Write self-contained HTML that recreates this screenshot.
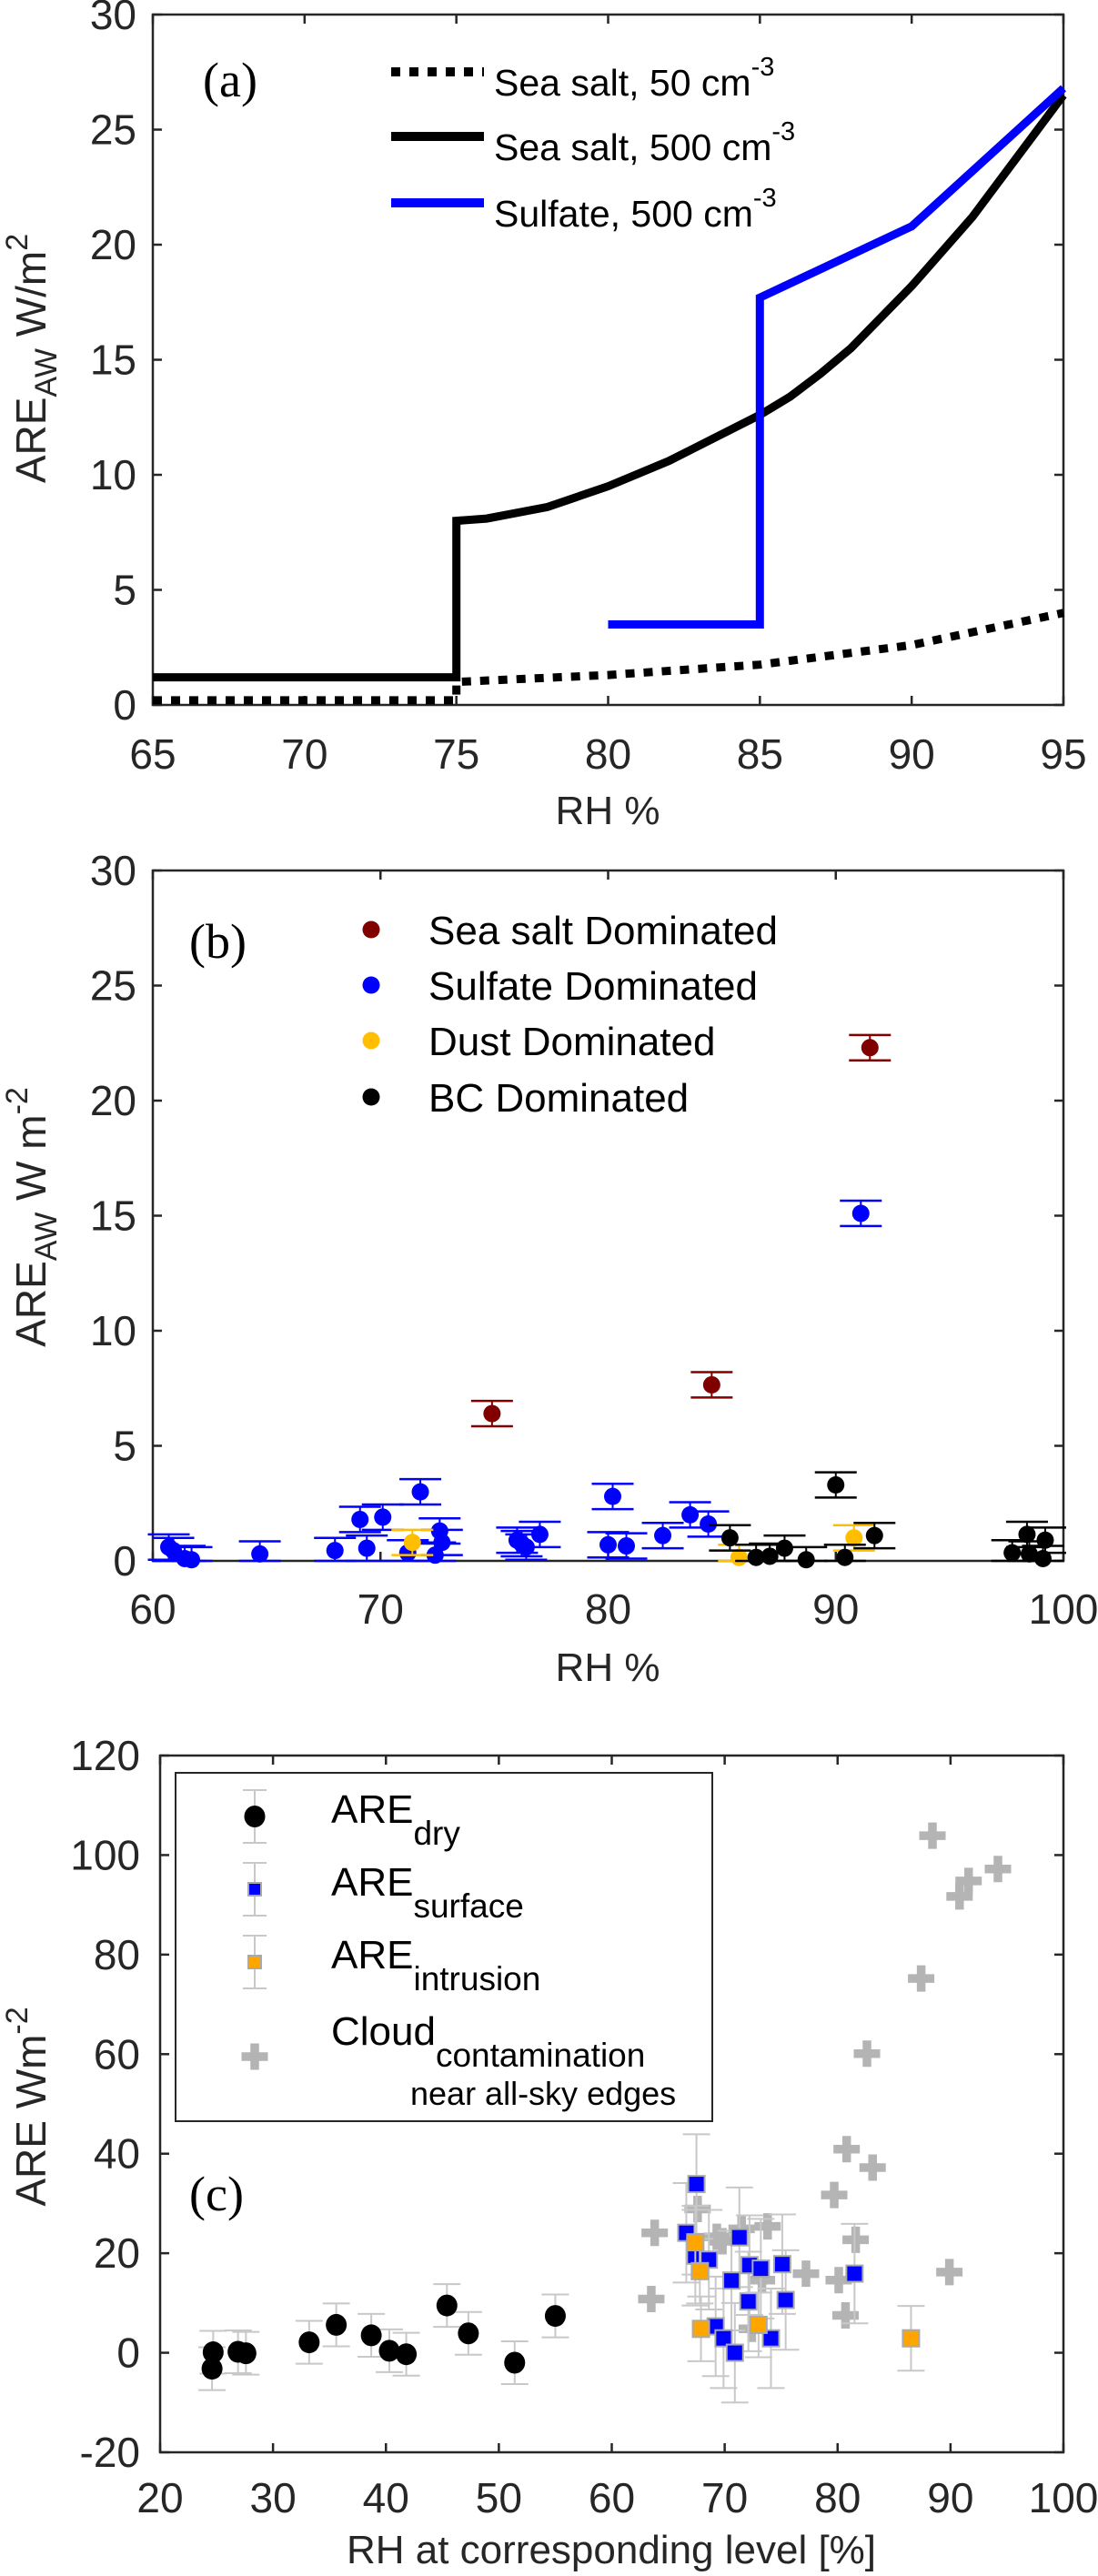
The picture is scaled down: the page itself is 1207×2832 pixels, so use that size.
<!DOCTYPE html>
<html><head><meta charset="utf-8"><style>
html,body{margin:0;padding:0;background:#fff;}
svg{display:block;font-family:"Liberation Sans",sans-serif;}
</style></head><body>
<svg id="fig" width="1207" height="2832" viewBox="0 0 1207 2832" xmlns="http://www.w3.org/2000/svg"></svg>
<script>
// ---------- Panel (a) data ----------
const aSeaSalt50X = [65, 75, 75, 80, 85, 90, 95];
const aSeaSalt50Y = [0.2, 0.2, 1.0, 1.3, 1.75, 2.6, 4.0];
const aSeaSalt500X = [65, 75, 75, 76, 78, 80, 82, 85, 86, 87, 88, 90, 92, 95];
const aSeaSalt500Y = [1.2, 1.2, 8.0, 8.1, 8.6, 9.5, 10.6, 12.6, 13.4, 14.4, 15.5, 18.2, 21.2, 26.5];
const aSulfateX = [80, 85, 85, 90, 95];
const aSulfateY = [3.5, 3.5, 17.7, 20.8, 26.8];
const aXTicks = [65, 70, 75, 80, 85, 90, 95];
const aYTicks = [0, 5, 10, 15, 20, 25, 30];

// ---------- Panel (b) data ----------
const bSeaSaltX = [74.9, 84.55, 91.5];
const bSeaSaltY = [6.4, 7.65, 22.3];
const bSulfateX = [60.7, 60.9, 61.4, 61.7, 64.7, 68.0, 69.1, 69.4, 70.1, 71.2, 71.75, 72.4, 72.6, 72.7, 76.0, 76.2, 76.4, 77.0, 80.0, 80.2, 80.8, 82.4, 83.6, 84.4, 91.1];
const bSulfateY = [0.6, 0.45, 0.1, 0.05, 0.3, 0.45, 1.8, 0.55, 1.9, 0.35, 3.0, 0.25, 1.3, 0.8, 0.9, 0.75, 0.6, 1.15, 0.7, 2.8, 0.65, 1.1, 2.0, 1.6, 15.1];
const bDustX = [71.4, 85.75, 90.8];
const bDustY = [0.8, 0.15, 1.0];
const bBCX = [85.35, 86.5, 87.1, 87.75, 88.7, 90.0, 90.4, 91.7, 97.75, 98.4, 98.5, 99.1, 99.2];
const bBCY = [1.0, 0.15, 0.2, 0.55, 0.05, 3.3, 0.15, 1.1, 0.35, 1.15, 0.3, 0.1, 0.9];
const bXTicks = [60, 70, 80, 90, 100];
const bYTicks = [0, 5, 10, 15, 20, 25, 30];

// ---------- Panel (c) data ----------
const cDryX = [24.6, 24.7, 26.9, 27.6, 33.2, 35.6, 38.7, 40.3, 41.8, 45.4, 47.3, 51.4, 55.0];
const cDryY = [-3.2, 0.1, 0.2, -0.1, 2.1, 5.6, 3.5, 0.4, -0.3, 9.5, 3.9, -2.0, 7.4];
const cSurfX = [66.6, 67.5, 67.4, 68.6, 70.6, 71.3, 72.1, 72.2, 73.2, 75.1, 75.4, 81.5, 69.2, 69.9, 70.9, 74.1];
const cSurfY = [24.1, 33.9, 19.5, 18.7, 14.5, 23.2, 10.3, 17.6, 16.9, 17.8, 10.6, 15.9, 5.3, 2.9, 0.0, 2.9];
const cIntrX = [67.4, 67.8, 67.9, 73.0, 86.5];
const cIntrY = [22.2, 16.4, 4.8, 5.6, 2.9];
const cCloudX = [63.8, 63.5, 67.6, 69.3, 69.8, 71.5, 73.8, 73.3, 72.4, 77.2, 79.7, 80.1, 80.7, 80.8, 81.6, 83.1, 82.6, 87.4, 88.4, 90.8, 91.6, 94.2, 89.9];
const cCloudY = [24.1, 10.8, 28.9, 23.3, 22.4, 24.9, 25.4, 14.6, 4.8, 15.9, 31.7, 14.6, 7.5, 40.9, 22.7, 37.2, 60.1, 75.2, 103.9, 91.7, 94.8, 97.2, 16.2];
const cXTicks = [20, 30, 40, 50, 60, 70, 80, 90, 100];
const cYTicks = [-20, 0, 20, 40, 60, 80, 100, 120];

const NS = "http://www.w3.org/2000/svg";
const svg = document.getElementById('fig');
function mk(tag, attrs, parent, text) {
  const e = document.createElementNS(NS, tag);
  for (const k in attrs) e.setAttribute(k, attrs[k]);
  if (text !== undefined) e.textContent = text;
  (parent || svg).appendChild(e);
  return e;
}
function scale(d0, d1, r0, r1) { return v => r0 + (v - d0) / (d1 - d0) * (r1 - r0); }

function axes(g, L, R, T, B, xs, ys, xt, yt, xLabY, yLabRight) {
  const box = mk('rect', {x: L, y: T, width: R - L, height: B - T, fill: 'none', stroke: '#262626', 'stroke-width': 2.5}, g);
  
  
  xt.forEach(v => {
    const x = xs(v);
    mk('line', {x1: x, x2: x, y1: B, y2: B - 10, stroke: '#262626', 'stroke-width': 2.5}, g);
    mk('line', {x1: x, x2: x, y1: T, y2: T + 10, stroke: '#262626', 'stroke-width': 2.5}, g);
    const t = mk('text', {x: x, y: xLabY, 'text-anchor': 'middle', 'font-size': 46, fill: '#262626'}, g, String(v));
    
    
  });
  yt.forEach(v => {
    const y = ys(v);
    mk('line', {x1: L, x2: L + 10, y1: y, y2: y, stroke: '#262626', 'stroke-width': 2.5}, g);
    mk('line', {x1: R, x2: R - 10, y1: y, y2: y, stroke: '#262626', 'stroke-width': 2.5}, g);
    const t = mk('text', {x: yLabRight, y: y + 16, 'text-anchor': 'end', 'font-size': 46, fill: '#262626'}, g, String(v));
    
    
  });
}
function pathFrom(xArr, yArr, xs, ys) {
  return xArr.map((v, i) => (i ? 'L' : 'M') + xs(v).toFixed(1) + ',' + ys(yArr[i]).toFixed(1)).join(' ');
}

// ===== Panel (a) =====
{
  const g = mk('g', {});  
  const L = 168, R = 1169, T = 16, B = 775;
  const xs = scale(65, 95, L, R), ys = scale(0, 30, B, T);
  axes(g, L, R, T, B, xs, ys, aXTicks, aYTicks, 845, 150);
  let p = mk('path', {d: pathFrom(aSeaSalt50X, aSeaSalt50Y, xs, ys), fill: 'none', stroke: '#000', 'stroke-width': 9, 'stroke-dasharray': '10 10'}, g);
   
  p = mk('path', {d: pathFrom(aSeaSalt500X, aSeaSalt500Y, xs, ys), fill: 'none', stroke: '#000', 'stroke-width': 9}, g);
   
  p = mk('path', {d: pathFrom(aSulfateX, aSulfateY, xs, ys), fill: 'none', stroke: '#0000ff', 'stroke-width': 9}, g);
   
  const lab = mk('text', {x: 223, y: 106, 'font-size': 54, 'font-family': 'Liberation Serif, serif', fill: '#000'}, g, '(a)');
   
  const leg = [['Sea salt, 50 cm', '#000', '10 10', 79], ['Sea salt, 500 cm', '#000', '', 150], ['Sulfate, 500 cm', '#0000ff', '', 223]];
  leg.forEach(e => {
    const gg = mk('g', {}, g);  
    const l = mk('line', {x1: 430, x2: 532, y1: e[3], y2: e[3], stroke: e[1], 'stroke-width': 10}, gg);
    if (e[2]) l.setAttribute('stroke-dasharray', e[2]);
    const t = mk('text', {x: 543, y: e[3] + 26, 'font-size': 41, fill: '#000'}, gg);
    mk('tspan', {}, t, e[0]);
    mk('tspan', {dy: -22, 'font-size': 29}, t, '-3');
  });
  const yl = mk('text', {transform: 'translate(50,394) rotate(-90)', 'text-anchor': 'middle', 'font-size': 46, fill: '#262626'}, g);
   
  mk('tspan', {}, yl, 'ARE'); mk('tspan', {dy: 12, 'font-size': 34}, yl, 'AW'); mk('tspan', {dy: -12}, yl, ' W/m'); mk('tspan', {dy: -20, 'font-size': 34}, yl, '2');
  const xl = mk('text', {x: 668, y: 906, 'text-anchor': 'middle', 'font-size': 44, fill: '#262626'}, g, 'RH %');
   
}

// ===== Panel (b) =====
{
  const g = mk('g', {});  
  const L = 168, R = 1169, T = 957, B = 1716;
  const xs = scale(60, 100, L, R), ys = scale(0, 30, B, T);
  axes(g, L, R, T, B, xs, ys, bXTicks, bYTicks, 1785, 150);
  function series(X, Y, col, name) {
    const gg = mk('g', {}, g);  
    X.forEach((v, i) => {
      const x = xs(v), y = ys(Y[i]), e = 0.55;
      const y1 = ys(Y[i] + e), y2 = ys(Math.max(0, Y[i] - e));
      mk('line', {x1: x, x2: x, y1: y1, y2: y2, stroke: col, 'stroke-width': 2}, gg);
      mk('line', {x1: x - 23, x2: x + 23, y1: y1, y2: y1, stroke: col, 'stroke-width': 2.5}, gg);
      mk('line', {x1: x - 23, x2: x + 23, y1: y2, y2: y2, stroke: col, 'stroke-width': 2.5}, gg);
      const c = mk('circle', {cx: x, cy: y, r: 9.5, fill: col}, gg);
       
    });
  }
  series(bSulfateX, bSulfateY, '#0000ff', 'series-sulfate');
  series(bDustX, bDustY, '#ffbf00', 'series-dust');
  series(bBCX, bBCY, '#000000', 'series-bc');
  series(bSeaSaltX, bSeaSaltY, '#800000', 'series-sea-salt');
  const lab = mk('text', {x: 208, y: 1053, 'font-size': 54, 'font-family': 'Liberation Serif, serif', fill: '#000'}, g, '(b)');
   
  [['Sea salt Dominated', '#800000', 1022], ['Sulfate Dominated', '#0000ff', 1083], ['Dust Dominated', '#ffbf00', 1144], ['BC Dominated', '#000', 1206]].forEach(e => {
    const gg = mk('g', {}, g);  
    mk('circle', {cx: 408, cy: e[2], r: 9.5, fill: e[1]}, gg);
    mk('text', {x: 471, y: e[2] + 16, 'font-size': 44, fill: '#000'}, gg, e[0]);
  });
  const yl = mk('text', {transform: 'translate(50,1338) rotate(-90)', 'text-anchor': 'middle', 'font-size': 46, fill: '#262626'}, g);
   
  mk('tspan', {}, yl, 'ARE'); mk('tspan', {dy: 12, 'font-size': 34}, yl, 'AW'); mk('tspan', {dy: -12}, yl, ' W m'); mk('tspan', {dy: -20, 'font-size': 34}, yl, '-2');
  const xl = mk('text', {x: 668, y: 1848, 'text-anchor': 'middle', 'font-size': 44, fill: '#262626'}, g, 'RH %');
   
}

// ===== Panel (c) =====
{
  const g = mk('g', {});  
  const L = 176, R = 1169, T = 1930, B = 2696;
  const xs = scale(20, 100, L, R), ys = scale(-20, 120, B, T);
  axes(g, L, R, T, B, xs, ys, cXTicks, cYTicks, 2762, 154);
  const eb = '#c8c8c8';
  function errbar(gg, x, y, e) {
    const y1 = ys(y + e), y2 = ys(y - e);
    mk('line', {x1: x, x2: x, y1: y1, y2: y2, stroke: eb, 'stroke-width': 2}, gg);
    mk('line', {x1: x - 15, x2: x + 15, y1: y1, y2: y1, stroke: eb, 'stroke-width': 2}, gg);
    mk('line', {x1: x - 15, x2: x + 15, y1: y2, y2: y2, stroke: eb, 'stroke-width': 2}, gg);
  }
  function cross(gg, x, y, col) {
    const p = mk('path', {d: `M${x - 14.5},${y} H${x + 14.5} M${x},${y - 14.5} V${y + 14.5}`, stroke: col, 'stroke-width': 9.5, fill: 'none'}, gg);
    return p;
  }
  let gg = mk('g', {}, g);  
  cCloudX.forEach((v, i) => {
    const p = cross(gg, xs(v), ys(cCloudY[i]), '#b4b4b4');
     
  });
  gg = mk('g', {}, g);  
  cSurfX.forEach((v, i) => errbar(gg, xs(v), cSurfY[i], 10));
  cSurfX.forEach((v, i) => {
    const r = mk('rect', {x: xs(v) - 9, y: ys(cSurfY[i]) - 9, width: 18, height: 18, fill: '#0000ff', stroke: '#aaaaaa', 'stroke-width': 2}, gg);
     
  });
  gg = mk('g', {}, g);  
  cIntrX.forEach((v, i) => errbar(gg, xs(v), cIntrY[i], 6.5));
  cIntrX.forEach((v, i) => {
    const r = mk('rect', {x: xs(v) - 9, y: ys(cIntrY[i]) - 9, width: 18, height: 18, fill: '#ffa500', stroke: '#aaaaaa', 'stroke-width': 2}, gg);
     
  });
  gg = mk('g', {}, g);  
  cDryX.forEach((v, i) => errbar(gg, xs(v), cDryY[i], 4.3));
  cDryX.forEach((v, i) => {
    const c = mk('ellipse', {cx: xs(v), cy: ys(cDryY[i]), rx: 11.5, ry: 12, fill: '#000'}, gg);
     
  });
  // legend
  const lg = mk('g', {}, g);  
  mk('rect', {x: 193, y: 1949, width: 590, height: 383, fill: '#fff', stroke: '#262626', 'stroke-width': 2}, lg);
  function legErr(y) {
    mk('line', {x1: 280, x2: 280, y1: y - 29, y2: y + 29, stroke: eb, 'stroke-width': 2}, lg);
    mk('line', {x1: 267, x2: 293, y1: y - 29, y2: y - 29, stroke: eb, 'stroke-width': 2}, lg);
    mk('line', {x1: 267, x2: 293, y1: y + 29, y2: y + 29, stroke: eb, 'stroke-width': 2}, lg);
  }
  legErr(1997); mk('ellipse', {cx: 280, cy: 1997, rx: 11.5, ry: 12, fill: '#000'}, lg);
  legErr(2077); mk('rect', {x: 273, y: 2070, width: 14, height: 14, fill: '#0000ff', stroke: '#aaa', 'stroke-width': 2}, lg);
  legErr(2157); mk('rect', {x: 273, y: 2150, width: 14, height: 14, fill: '#ffa500', stroke: '#aaa', 'stroke-width': 2}, lg);
  cross(lg, 280, 2261, '#b4b4b4');
  [['ARE', 'dry', 2004], ['ARE', 'surface', 2084], ['ARE', 'intrusion', 2164], ['Cloud', 'contamination', 2248]].forEach(e => {
    const t = mk('text', {x: 364, y: e[2], 'font-size': 44, fill: '#000'}, lg);
     
    mk('tspan', {}, t, e[0]); mk('tspan', {dy: 24, 'font-size': 37}, t, e[1]);
  });
  mk('text', {x: 451, y: 2314, 'font-size': 36, fill: '#000'}, lg, 'near all-sky edges');
  const lab = mk('text', {x: 208, y: 2430, 'font-size': 54, 'font-family': 'Liberation Serif, serif', fill: '#000'}, g, '(c)');
   
  const yl = mk('text', {transform: 'translate(50,2316) rotate(-90)', 'text-anchor': 'middle', 'font-size': 46, fill: '#262626'}, g);
   
  mk('tspan', {}, yl, 'ARE Wm'); mk('tspan', {dy: -20, 'font-size': 34}, yl, '-2');
  const xl = mk('text', {x: 672, y: 2818, 'text-anchor': 'middle', 'font-size': 44, fill: '#262626'}, g, 'RH at corresponding level [%]');
   
}
</script>
</body></html>
